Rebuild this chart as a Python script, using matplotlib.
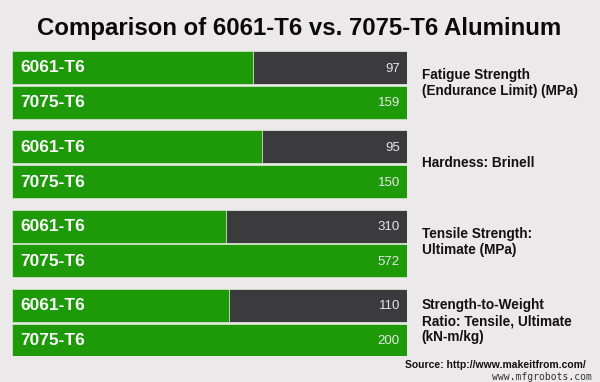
import matplotlib
matplotlib.use('Agg')
import matplotlib.pyplot as plt

# ───────────── DATA ─────────────
properties = ['Fatigue Strength\n(Endurance Limit) (MPa)',
              'Hardness: Brinell',
              'Tensile Strength:\nUltimate (MPa)',
              'Strength-to-Weight\nRatio: Tensile, Ultimate\n(kN-m/kg)']
alloys = ['6061-T6', '7075-T6']
vals_6061 = [97, 95, 310, 110]
vals_7075 = [159, 150, 572, 200]

GREEN = '#1e9a08'
DARK = '#3b3a3c'
BG = '#ece9ea'

plt.rcParams['font.family'] = ['Liberation Sans', 'DejaVu Sans']

fig = plt.figure(figsize=(6, 3.82), dpi=100)
fig.patch.set_facecolor(BG)

W, H = 600, 382
# axes spans bar area: x 12..407 px, y 51..356 px
ax = fig.add_axes([12 / W, 1 - 356 / H, 395 / W, 305 / H])
ax.set_facecolor(BG)
ax.set_xlim(0, 1)
ax.set_ylim(305, 0)
ax.axis('off')

step, row, bh = 79.3, 34.8, 33.0
for i, prop in enumerate(properties):
    top = 16.5 + i * step
    vals = [vals_6061[i], vals_7075[i]]
    vmax = max(vals)
    for j, (alloy, v) in enumerate(zip(alloys, vals)):
        y = top + j * row
        # track (dark) then fill (green) scaled to group max
        ax.barh(y, 1.0, height=bh, color=DARK, edgecolor='#d9e6d4', linewidth=0.6)
        ax.barh(y, v / vmax, height=bh, color=GREEN, edgecolor='#cfe5c8', linewidth=0.6)
        ax.text(0.02, y + 0.5, alloy, color='white', fontsize=12.5, fontweight='bold',
                va='center', ha='left')
        ax.text(0.982, y + 1.0, str(v), color='#e6e6e6', fontsize=9.5, va='center', ha='right')
    ax.text(1.037, top + row / 2 - 1.5, prop, fontsize=9.8, fontweight='bold',
            va='center', ha='left', linespacing=1.2, clip_on=False, color='#111111')

fig.text(0.498, 1 - 29 / H, 'Comparison of 6061-T6 vs. 7075-T6 Aluminum',
         ha='center', va='center', fontsize=17.3, fontweight='bold', color='#0a0a0a')
fig.text(586 / W, 1 - 365 / H, 'Source: http://www.makeitfrom.com/',
         ha='right', va='center', fontsize=7.5, fontweight='bold', color='#111111')
fig.text(592 / W, 1 - 376.5 / H, 'www.mfgrobots.com', ha='right', va='center',
         fontsize=7, family='DejaVu Sans Mono', color='#333333')

fig.savefig('out.png', dpi=100, facecolor=BG)
